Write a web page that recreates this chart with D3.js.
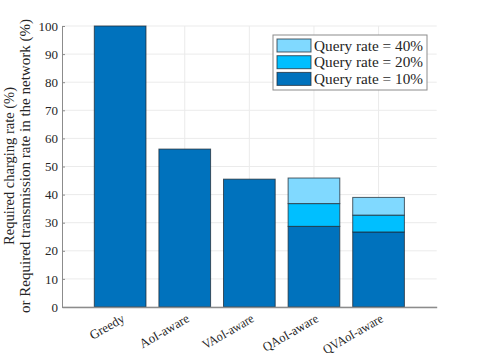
<!DOCTYPE html>
<html><head><meta charset="utf-8">
<script src="https://cdn.jsdelivr.net/npm/d3@7"></script>
<style>body{margin:0;background:#fff}svg{display:block}text{font-family:"Liberation Serif","DejaVu Serif",serif;fill:#262626}</style>
</head><body><svg id="c" width="482" height="361"></svg>
<script>
const categories = ["Greedy","AoI-aware","VAoI-aware","QAoI-aware","QVAoI-aware"];
const rate10 = [100, 56.2, 45.5, 28.7, 26.7];
const rate20 = [0, 0, 0, 8.1, 6.0];
const rate40 = [0, 0, 0, 9.1, 6.3];
const seriesNames = ["Query rate = 10%","Query rate = 20%","Query rate = 40%"];
const colors = ["#0072BD","#00BFFF","#80D9FF"];
const yTicks = [0,10,20,30,40,50,60,70,80,90,100];

const svg = d3.select("#c");
const L=62,R=436.7,T=26,B=307;
const x = d3.scaleLinear().domain([0.1,5.9]).range([L,R]);
const y = d3.scaleLinear().domain([0,100]).range([B,T]);
const bw = x(1.4)-x(0.6);

// grid
const g = svg.append("g");
g.selectAll("line.h").data(yTicks).join("line").attr("x1",L).attr("x2",R)
 .attr("y1",d=>y(d)).attr("y2",d=>y(d)).attr("stroke","#ebebeb").attr("stroke-width",1);
g.selectAll("line.v").data(categories).join("line").attr("y1",T).attr("y2",B)
 .attr("x1",(d,i)=>x(i+1)).attr("x2",(d,i)=>x(i+1)).attr("stroke","#ebebeb").attr("stroke-width",1);

// stacked bars
const data = categories.map((c,i)=>({c,i,v:[rate10[i],rate20[i],rate40[i]]}));
const stack = d3.stack().keys([0,1,2]).value((d,k)=>d.v[k]);
const layers = stack(data);
layers.forEach((layer,k)=>{
  svg.append("g").selectAll("rect").data(layer.filter(d=>d[1]-d[0]>0)).join("rect")
   .attr("x",d=>x(d.data.i+1)-bw/2).attr("width",bw)
   .attr("y",d=>y(d[1])).attr("height",d=>y(d[0])-y(d[1]))
   .attr("fill",colors[k]).attr("stroke","#1f2a33").attr("stroke-opacity",0.75).attr("stroke-width",1);
});

// axes
const ya = d3.axisLeft(y).tickValues(yTicks).tickSizeInner(-3).tickSizeOuter(0).tickPadding(4);
const yg = svg.append("g").attr("transform",`translate(${L},0)`).call(ya);
yg.select(".domain").attr("stroke","#8c8c8c");
yg.selectAll(".tick line").attr("stroke","#8c8c8c");
yg.selectAll("text").attr("font-size",13).attr("font-family","Liberation Serif").attr("fill","#262626");
const xa = d3.axisBottom(x).tickValues([1,2,3,4,5]).tickFormat((d)=>categories[d-1]).tickSize(0).tickSizeOuter(0);
const xg = svg.append("g").attr("transform",`translate(0,${B})`).call(xa);
xg.select(".domain").attr("stroke","#8c8c8c").attr("stroke-width",1.3);
const xlen = [38,55,57,62,67];
xg.selectAll("text").attr("font-size",13).attr("font-family","Liberation Serif").attr("fill","#262626")
 .attr("text-anchor","end").attr("dy",null).attr("y",0)
 .attr("textLength",(d)=>xlen[d-1]).attr("lengthAdjust","spacingAndGlyphs")
 .attr("transform","translate(5,14) rotate(-30)");

// y label
const yl = svg.append("text").attr("transform","translate(13.5,166) rotate(-90)").attr("text-anchor","middle").attr("font-size",14.5);
yl.append("tspan").attr("x",0).attr("dy",0).attr("textLength",158).attr("lengthAdjust","spacingAndGlyphs").text("Required charging rate (%)");
yl.append("tspan").attr("x",0).attr("dy",16.5).attr("textLength",294).attr("lengthAdjust","spacingAndGlyphs").text("or Required transmission rate in the network (%)");

// legend
const lg = svg.append("g");
lg.append("rect").attr("x",273).attr("y",35).attr("width",154).attr("height",55).attr("fill","#fff").attr("stroke","#8c8c8c");
[2,1,0].forEach((k,j)=>{
  const yy = 39+j*16.7;
  lg.append("rect").attr("x",277).attr("y",yy).attr("width",34).attr("height",13).attr("fill",colors[k]).attr("stroke","#1f2a33").attr("stroke-opacity",0.75);
  lg.append("text").attr("x",314).attr("y",yy+11.5).attr("font-size",14.5)
   .attr("textLength",109).attr("lengthAdjust","spacingAndGlyphs").text(seriesNames[k]);
});
</script></body></html>
